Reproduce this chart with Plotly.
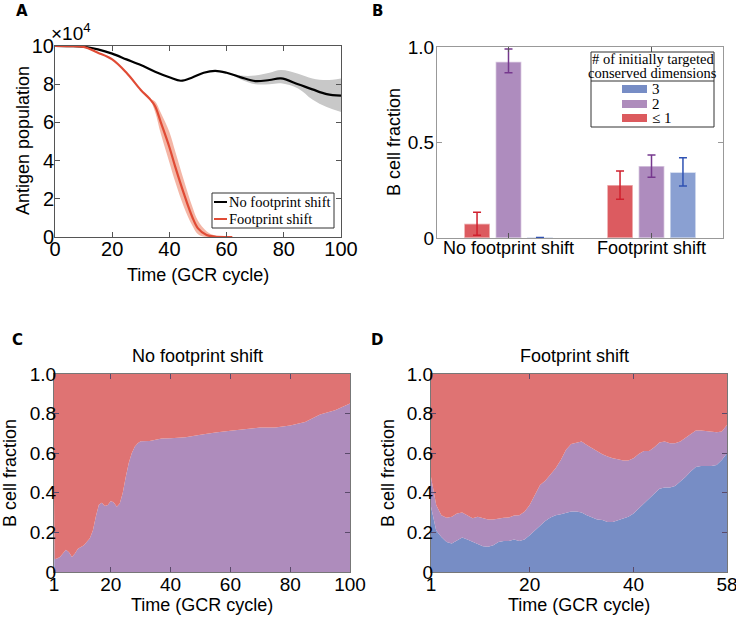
import plotly.graph_objects as go

# ---------------- Panel A data (antigen population, units of 1e4) ----------------
t_black = [0, 5, 10, 15, 20, 25, 30, 35, 40, 44, 48, 52, 56, 60, 65, 70, 75, 79, 85, 90, 95, 100]
black_mean = [10, 9.99, 9.96, 9.82, 9.6, 9.3, 9.0, 8.65, 8.36, 8.18, 8.35, 8.6, 8.7, 8.6, 8.36, 8.16, 8.22, 8.3, 8.0, 7.73, 7.48, 7.4]
black_lo = [10, 9.99, 9.96, 9.82, 9.6, 9.3, 9.0, 8.65, 8.36, 8.18, 8.35, 8.6, 8.7, 8.58, 8.25, 8.0, 8.0, 8.05, 7.78, 7.2, 6.8, 6.55]
black_hi = [10, 9.99, 9.96, 9.82, 9.6, 9.3, 9.0, 8.65, 8.36, 8.18, 8.35, 8.6, 8.7, 8.62, 8.45, 8.45, 8.6, 8.74, 8.55, 8.3, 8.22, 8.3]

t_red = [0, 5, 10, 15, 20, 25, 30, 33, 35, 37, 40, 42, 45, 48, 50, 53, 56, 60, 62]
red_mean = [10, 9.99, 9.95, 9.65, 9.3, 8.6, 7.7, 7.25, 6.85, 6.0, 4.7, 3.7, 2.3, 1.05, 0.45, 0.1, 0.02, 0, 0]
red_lo = [10, 9.99, 9.95, 9.65, 9.3, 8.6, 7.7, 7.25, 6.55, 5.4, 3.9, 2.9, 1.6, 0.6, 0.15, 0.0, 0, 0, 0]
red_hi = [10, 9.99, 9.95, 9.65, 9.3, 8.6, 7.7, 7.25, 7.1, 6.5, 5.5, 4.5, 3.0, 1.6, 0.85, 0.3, 0.07, 0, 0]

# ---------------- Panel B data ----------------
b_categories = ["No footprint shift", "Footprint shift"]
b_le1 = [0.075, 0.277]
b_le1_lo = [0.015, 0.203]
b_le1_hi = [0.135, 0.351]
b_two = [0.923, 0.377]
b_two_lo = [0.865, 0.318]
b_two_hi = [0.99, 0.435]
b_three = [0.003, 0.344]
b_three_lo = [0.003, 0.272]
b_three_hi = [0.003, 0.42]

# ---------------- Panel C data (No footprint shift) ----------------
t_c = [1, 1.2, 2, 3, 5, 6, 7, 8, 9, 11, 13, 14, 15, 16, 17, 18, 19, 20, 21, 22, 23, 24, 25, 26, 27, 28, 29, 30,
       33, 35, 37, 40, 45, 50, 55, 60, 65, 70, 75, 80, 85, 90, 95, 100]
c_three = [0.37] + [0] * 43
c_two = [0, 0.065, 0.068, 0.076, 0.113, 0.10, 0.076, 0.093, 0.118, 0.135, 0.17, 0.21, 0.28, 0.34, 0.35, 0.333,
         0.338, 0.358, 0.351, 0.33, 0.346, 0.40, 0.48, 0.55, 0.60, 0.633, 0.65, 0.66,
         0.662, 0.668, 0.674, 0.676, 0.68, 0.693, 0.705, 0.713, 0.72, 0.73, 0.73, 0.74, 0.757, 0.795, 0.817, 0.851]

# ---------------- Panel D data (Footprint shift) ----------------
t_d = list(range(1, 59))
d_three = [0.33, 0.21, 0.177, 0.152, 0.144, 0.157, 0.174, 0.164, 0.152, 0.144, 0.13, 0.127, 0.135, 0.152, 0.157,
           0.157, 0.164, 0.157, 0.164, 0.186, 0.21, 0.236, 0.258, 0.275, 0.287, 0.292, 0.30, 0.306, 0.306, 0.30,
           0.287, 0.275, 0.265, 0.262, 0.253, 0.253, 0.262, 0.27, 0.279, 0.296, 0.321, 0.346, 0.372, 0.397, 0.42,
           0.427, 0.427, 0.434, 0.456, 0.48, 0.507, 0.53, 0.535, 0.535, 0.535, 0.54, 0.566, 0.60]
d_two_plus_three = [0.48, 0.338, 0.287, 0.274, 0.279, 0.296, 0.30, 0.284, 0.272, 0.279, 0.27, 0.265, 0.265, 0.27,
                    0.274, 0.275, 0.285, 0.287, 0.304, 0.338, 0.389, 0.44, 0.461, 0.49, 0.524, 0.566, 0.617, 0.647,
                    0.654, 0.659, 0.642, 0.625, 0.608, 0.595, 0.583, 0.574, 0.569, 0.563, 0.563, 0.574, 0.596,
                    0.611, 0.611, 0.63, 0.654, 0.659, 0.65, 0.65, 0.659, 0.679, 0.698, 0.715, 0.715, 0.711, 0.709,
                    0.706, 0.709, 0.743]

# ---------------- Styling ----------------
W, H = 736, 619
SANS = "Liberation Sans, Arial, sans-serif"
SERIF = "Liberation Serif, Times New Roman, serif"
C_RED_AREA, C_PUR_AREA, C_BLU_AREA = "#df7373", "#ae8cbc", "#778dc5"
C_RED_BAR, C_PUR_BAR, C_BLU_BAR = "#dc5b60", "#ae8cbe", "#8aa0d2"
C_RED_ERR, C_PUR_ERR, C_BLU_ERR = "#d0202e", "#76388e", "#2f52b3"


def px(x):
    return x / W


def py(y):
    return 1 - y / H


fig = go.Figure()

# ---- Panel A ----
fig.add_trace(go.Scatter(x=t_black, y=black_hi, mode="lines", line=dict(width=0, shape="spline"),
                         xaxis="x", yaxis="y", showlegend=False, hoverinfo="skip"))
fig.add_trace(go.Scatter(x=t_black, y=black_lo, mode="lines", line=dict(width=0, shape="spline"),
                         fill="tonexty", fillcolor="#c8c8c8", xaxis="x", yaxis="y", showlegend=False,
                         hoverinfo="skip"))
fig.add_trace(go.Scatter(x=t_red, y=red_hi, mode="lines", line=dict(width=0, shape="spline"),
                         xaxis="x", yaxis="y", showlegend=False, hoverinfo="skip"))
fig.add_trace(go.Scatter(x=t_red, y=red_lo, mode="lines", line=dict(width=0, shape="spline"),
                         fill="tonexty", fillcolor="#f4b6a6", xaxis="x", yaxis="y", showlegend=False,
                         hoverinfo="skip"))
fig.add_trace(go.Scatter(x=t_black, y=black_mean, mode="lines", line=dict(color="black", width=2.2, shape="spline"),
                         xaxis="x", yaxis="y", showlegend=False))
fig.add_trace(go.Scatter(x=t_red, y=red_mean, mode="lines", line=dict(color="#e04b35", width=2.2, shape="spline"),
                         xaxis="x", yaxis="y", showlegend=False))

# ---- Panel B ----
b_x = [1, 2]
for vals, lo, hi, col, ecol in [
    (b_le1, b_le1_lo, b_le1_hi, C_RED_BAR, C_RED_ERR),
    (b_two, b_two_lo, b_two_hi, C_PUR_BAR, C_PUR_ERR),
    (b_three, b_three_lo, b_three_hi, C_BLU_BAR, C_BLU_ERR),
]:
    fig.add_trace(go.Bar(
        x=b_x, y=vals, xaxis="x2", yaxis="y2", showlegend=False,
        marker=dict(color=col, line=dict(color="rgba(255,255,255,0.55)", width=1.5)),
        error_y=dict(type="data", symmetric=False,
                     array=[h - v for h, v in zip(hi, vals)],
                     arrayminus=[v - l for v, l in zip(vals, lo)],
                     color=ecol, thickness=1.5, width=4),
    ))

# ---- Panel C ----
c_red = [1 - a - b for a, b in zip(c_three, c_two)]
for vals, col in [(c_three, C_BLU_AREA), (c_two, C_PUR_AREA), (c_red, C_RED_AREA)]:
    fig.add_trace(go.Scatter(x=t_c, y=vals, mode="lines", stackgroup="c", line=dict(width=0, color=col),
                             fillcolor=col, xaxis="x3", yaxis="y3", showlegend=False))

# ---- Panel D ----
d_two = [b - a for a, b in zip(d_three, d_two_plus_three)]
d_red = [1 - b for b in d_two_plus_three]
for vals, col in [(d_three, C_BLU_AREA), (d_two, C_PUR_AREA), (d_red, C_RED_AREA)]:
    fig.add_trace(go.Scatter(x=t_d, y=vals, mode="lines", stackgroup="d", line=dict(width=0, color=col),
                             fillcolor=col, xaxis="x4", yaxis="y4", showlegend=False))

axis_common = dict(showgrid=False, zeroline=False, showline=True, mirror="ticks", ticks="inside",
                   ticklen=5, tickwidth=1, automargin=False, ticklabeloverflow="allow")

fig.update_layout(
    width=W, height=H, margin=dict(l=0, r=0, t=0, b=0, autoexpand=False),
    paper_bgcolor="white", plot_bgcolor="white",
    font=dict(family=SANS, color="black"),
    barmode="group", bargap=0.34, bargroupgap=0.18,
    xaxis=dict(domain=[px(55), px(341)], range=[0, 100], tickvals=[0, 20, 40, 60, 80, 100],
               linecolor="#555", tickcolor="#555", tickfont=dict(size=20), anchor="y",
               ticklabelstandoff=-6, **axis_common),
    yaxis=dict(domain=[py(237), py(46)], range=[0, 10], tickvals=[0, 2, 4, 6, 8, 10],
               linecolor="#555", tickcolor="#555", tickfont=dict(size=20), anchor="x",
               ticklabelstandoff=-4, **axis_common),
    xaxis2=dict(domain=[px(437), px(723)], range=[0.5, 2.5], tickvals=b_x, ticktext=b_categories,
                linecolor="#999", tickcolor="#555", tickfont=dict(size=18), anchor="y2",
                ticklabelstandoff=-7, **axis_common),
    yaxis2=dict(domain=[py(238), py(47)], range=[0, 1], tickvals=[0, 0.5, 1], ticktext=["0", "0.5", "1.0"],
                linecolor="#999", tickcolor="#999", tickfont=dict(size=19), anchor="x2",
                ticklabelstandoff=-2, **axis_common),
    xaxis3=dict(domain=[px(54), px(350)], range=[1, 100], tickvals=[1, 20, 40, 60, 80, 100],
                linecolor="#777", tickcolor="#5a4a6a", tickfont=dict(size=19), anchor="y3",
                ticklabelstandoff=-5, **axis_common),
    yaxis3=dict(domain=[py(572), py(374)], range=[0, 1], tickvals=[0, 0.2, 0.4, 0.6, 0.8, 1.0],
                ticktext=["0", "0.2", "0.4", "0.6", "0.8", "1.0"],
                linecolor="#777", tickcolor="#5a4a6a", tickfont=dict(size=19), anchor="x3",
                ticklabelstandoff=-7, **axis_common),
    xaxis4=dict(domain=[px(431), px(727)], range=[1, 58], tickvals=[1, 20, 40, 58],
                linecolor="#777", tickcolor="#5a4a6a", tickfont=dict(size=19), anchor="y4",
                ticklabelstandoff=-5, **axis_common),
    yaxis4=dict(domain=[py(572), py(374)], range=[0, 1], tickvals=[0, 0.2, 0.4, 0.6, 0.8, 1.0],
                ticktext=["0", "0.2", "0.4", "0.6", "0.8", "1.0"],
                linecolor="#777", tickcolor="#5a4a6a", tickfont=dict(size=19), anchor="x4",
                ticklabelstandoff=-7, **axis_common),
)

ann = []


def text(x, y, s, size=18, angle=0, xanchor="center", family=SANS, bold=False):
    ann.append(dict(x=px(x), y=py(y), xref="paper", yref="paper", text=("<b>%s</b>" % s) if bold else s,
                    showarrow=False, textangle=angle, xanchor=xanchor, yanchor="middle",
                    font=dict(size=size, family=family, color="black")))


# panel letters
text(22, 11, "A", size=15, bold=True, family="DejaVu Sans")
text(377, 11, "B", size=15, bold=True, family="DejaVu Sans")
text(17, 340, "C", size=15, bold=True, family="DejaVu Sans")
text(377, 340, "D", size=15, bold=True, family="DejaVu Sans")

# Panel A texts
text(23, 141, "Antigen population", angle=-90)
text(198, 275, "Time (GCR cycle)")
text(49, 32, "×10<sup>4</sup>", size=19, xanchor="left")
# Panel B texts
text(394, 142, "B cell fraction", angle=-90)
# Panel C/D texts
text(10, 473, "B cell fraction", angle=-90)
text(202, 605, "Time (GCR cycle)")
text(198, 356, "No footprint shift")
text(388, 473, "B cell fraction", angle=-90)
text(579, 605, "Time (GCR cycle)")
text(574, 356, "Footprint shift")

# Legend A
shapes = []
shapes.append(dict(type="rect", xref="paper", yref="paper", x0=px(212), x1=px(334), y0=py(228), y1=py(193),
                   line=dict(color="#333", width=1), fillcolor="white"))
shapes.append(dict(type="line", xref="paper", yref="paper", x0=px(214), x1=px(227), y0=py(202), y1=py(202),
                   line=dict(color="black", width=2)))
shapes.append(dict(type="line", xref="paper", yref="paper", x0=px(214), x1=px(227), y0=py(219), y1=py(219),
                   line=dict(color="#e04b35", width=2)))
text(227, 202, "No footprint shift", size=14.5, xanchor="left", family=SERIF)
text(227, 219, "Footprint shift", size=14.5, xanchor="left", family=SERIF)

# Legend B
shapes.append(dict(type="rect", xref="paper", yref="paper", x0=px(591), x1=px(714), y0=py(127), y1=py(52),
                   line=dict(color="#333", width=1), fillcolor="white"))
shapes.append(dict(type="line", xref="paper", yref="paper", x0=px(591), x1=px(714), y0=py(81), y1=py(81),
                   line=dict(color="#333", width=1)))
text(652.5, 59, "# of initially targeted", size=14.5, family=SERIF)
text(652.5, 73, "conserved dimensions", size=14.5, family=SERIF)
for yy, col, lab in [(89, C_BLU_AREA, "3"), (104, C_PUR_AREA, "2"), (118, "#dc5a5e", "≤ 1")]:
    shapes.append(dict(type="rect", xref="paper", yref="paper", x0=px(622), x1=px(647), y0=py(yy + 4),
                       y1=py(yy - 4), line=dict(width=0), fillcolor=col))
    text(650, yy, lab, size=15, xanchor="left", family=SERIF)

fig.update_layout(annotations=ann, shapes=shapes)

fig.write_html("out.html", config={"displayModeBar": False},
               post_script="document.body.style.margin='0';document.body.style.padding='0';")
